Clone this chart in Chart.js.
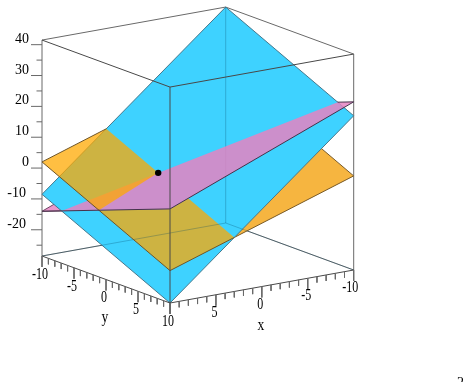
<!DOCTYPE html>
<html>
<head>
<meta charset="utf-8">
<title>Three planes</title>
<style>
  html, body { margin: 0; padding: 0; background: #fff; overflow: hidden; }
  canvas { display: block; }
</style>
<script src="https://cdn.jsdelivr.net/npm/chart.js@4/dist/chart.umd.min.js"></script>
</head>
<body>
<canvas id="chart" width="470" height="382"></canvas>
<script>
// corners of the x/y domain, every plane below lists its height at these four
const cornersXY = [[10, -10], [10, 10], [-10, 10], [-10, -10]];
const cyanZ = [-8.5, -28.5, 21.5, 41.5];
const orangeZ = [2, -18, 2, 22];
const pinkZ = [-14, 2, 26, 10];

// where the three planes meet
const meetPoint = [3, -1.89, 0.89];

const zRange = [-28.5, 41.5];
const xTicks = [-10, -5, 0, 5, 10];
const yTicks = [-10, -5, 0, 5, 10];
const zTicks = [40, 30, 20, 10, 0, -10, -20];
const xMinor = [-9, -8, -7, -6, -4, -3, -2, -1, 1, 2, 3, 4, 6, 7, 8, 9];
const yMinor = [-9, -8, -7, -6, -4, -3, -2, -1, 1, 2, 3, 4, 6, 7, 8, 9];
const zMinor = [35, 25, 15, 5, -5, -15, -25];

// view: oblique projection onto the page
function project(x, y, z) {
    return {
        x: 197.85 - 9.185 * x + 6.4 * y,
        y: 263 + 1.65 * x + 2.35 * y - 3.085 * (z - zRange[0])
    };
}

function heightOn(plane, x, y) {
    const c = (plane[0] + plane[1] + plane[2] + plane[3]) / 4;
    const p = (plane[0] + plane[1] - plane[2] - plane[3]) / 40;
    const q = (plane[1] + plane[2] - plane[0] - plane[3]) / 40;
    return c + p * x + q * y;
}

// keep the part of an x/y polygon where plane a is above plane b
function above(poly, a, b) {
    const out = [];
    const f = pt => heightOn(a, pt[0], pt[1]) - heightOn(b, pt[0], pt[1]);
    poly.forEach((pt, i) => {
        const next = poly[(i + 1) % poly.length];
        const fa = f(pt), fb = f(next);
        if (fa >= 0) out.push(pt);
        if ((fa >= 0) !== (fb >= 0)) {
            const t = fa / (fa - fb);
            out.push([pt[0] + t * (next[0] - pt[0]), pt[1] + t * (next[1] - pt[1])]);
        }
    });
    return out;
}

function onPlane(poly, plane) {
    const pts = poly.map(pt => project(pt[0], pt[1], heightOn(plane, pt[0], pt[1])));
    if (pts.length) pts.push(pts[0]);
    return pts;
}

function area(points, color, border) {
    return {
        data: points, showLine: true, fill: 'shape', backgroundColor: color,
        borderColor: border || 'transparent', borderWidth: border ? 1 : 0,
        pointRadius: 0, tension: 0
    };
}

function lines(points, color) {
    return { data: points, showLine: true, fill: false, borderColor: color, borderWidth: 1, pointRadius: 0, tension: 0 };
}

function boxEdges(pairs) {
    const pts = [];
    pairs.forEach(e => {
        pts.push(project(e[0], e[1], e[2]), project(e[3], e[4], e[5]), { x: NaN, y: NaN });
    });
    return pts;
}

const [zLow, zHigh] = zRange;
const backEdges = boxEdges([
    [-10, -10, zLow, -10, -10, zHigh],
    [10, -10, zLow, -10, -10, zLow],
    [-10, -10, zLow, -10, 10, zLow]
]);
const rimEdges = boxEdges([
    [10, -10, zLow, 10, -10, zHigh],
    [-10, 10, zLow, -10, 10, zHigh],
    [10, -10, zHigh, -10, -10, zHigh],
    [-10, -10, zHigh, -10, 10, zHigh]
]);
const frontEdges = boxEdges([
    [10, 10, zLow, 10, 10, zHigh],
    [10, -10, zHigh, 10, 10, zHigh],
    [10, 10, zHigh, -10, 10, zHigh],
    [10, -10, zLow, 10, 10, zLow],
    [10, 10, zLow, -10, 10, zLow]
]);

// axis tick marks hang off the box edges
function tickMarks(values, toPoint, dx, dy) {
    const pts = [];
    values.forEach(v => {
        const p = toPoint(v);
        pts.push(p, { x: p.x + dx, y: p.y + dy }, { x: NaN, y: NaN });
    });
    return pts;
}
const zAt = v => project(10, -10, v);
const yAt = v => project(10, v, zLow);
const xAt = v => project(v, 10, zLow);

// one side of a plane, optionally trimmed to where it is above another plane
function side(plane, i, j, other) {
    let seg = [cornersXY[i], cornersXY[j]];
    if (other) seg = above(seg, plane, other);
    return onPlane(seg, plane).slice(0, 2);
}

const ORANGE = 'rgba(255,168,0,0.74)';
const ORANGE_BACK = 'rgb(246,181,64)';
const PINK = 'rgba(231,130,193,0.84)';
const CYAN = 'rgb(62,210,255)';
const BOX = 'rgb(105,105,105)';
const FRONT = 'rgb(72,72,72)';
const ORANGE_EDGE = 'rgb(110,85,40)';
const PINK_EDGE = 'rgb(70,50,75)';

// flat sheets used only to cut the domain at x = 0
const xRamp = [20, 20, 0, 0];
const xRampMid = [10, 10, 10, 10];

const orangeUnder = above(cornersXY, cyanZ, orangeZ);
const pinkUnder = above(cornersXY, cyanZ, pinkZ);
const pinkOver = above(cornersXY, pinkZ, cyanZ);
const orangeOver = above(cornersXY, orangeZ, cyanZ);

// painted bottom to top, reversed below since Chart.js draws the first dataset last
const layers = [
    lines(backEdges, BOX),
    lines(rimEdges, BOX),
    area(onPlane(orangeUnder, orangeZ), ORANGE_BACK, 'rgb(120,90,40)'),
    area(onPlane(pinkUnder, pinkZ), PINK, 'rgb(110,70,100)'),
    area(onPlane(cornersXY, cyanZ), CYAN, 'rgb(70,120,140)'),
    area(onPlane(above(orangeOver, pinkZ, orangeZ), orangeZ), ORANGE),
    // orange does not show through the pink sheet, reset that part to cyan first
    area(onPlane(above(pinkOver, xRamp, xRampMid), pinkZ), CYAN),
    lines(backEdges, 'rgba(0,70,100,0.28)'),
    area(onPlane(pinkOver, pinkZ), PINK),
    area(onPlane(above(orangeOver, orangeZ, pinkZ), orangeZ), ORANGE),
    lines(side(orangeZ, 0, 1), ORANGE_EDGE),
    lines(side(orangeZ, 1, 2, cyanZ), ORANGE_EDGE),
    lines(side(orangeZ, 0, 3, cyanZ), ORANGE_EDGE),
    lines(side(pinkZ, 0, 1), PINK_EDGE),
    lines(side(pinkZ, 1, 2), PINK_EDGE),
    lines(side(pinkZ, 2, 3, cyanZ), PINK_EDGE),
    lines(frontEdges, FRONT),
    lines(tickMarks(zTicks, zAt, -11, 0), BOX),
    lines(tickMarks(zMinor, zAt, -5.5, 0), BOX),
    lines(tickMarks(yTicks, yAt, 0, 11), BOX),
    lines(tickMarks(yMinor, yAt, 0, 6), BOX),
    lines(tickMarks(xTicks, xAt, 0, 11), BOX),
    lines(tickMarks(xMinor, xAt, 0, 6), BOX),
    {
        data: [project(meetPoint[0], meetPoint[1], meetPoint[2])],
        showLine: false, pointRadius: 3.2, pointBackgroundColor: '#000', pointBorderWidth: 0
    }
];

function drawText(ctx, text, x, y, size, squeeze, align) {
    ctx.save();
    ctx.font = size + 'px "Liberation Serif"';
    ctx.fillStyle = '#000';
    ctx.textAlign = align || 'center';
    ctx.textBaseline = 'alphabetic';
    ctx.translate(x, y);
    ctx.scale(squeeze, 1);
    ctx.fillText(text, 0, 0);
    ctx.restore();
}

const axisLabels = {
    id: 'axisLabels',
    afterDraw(chart) {
        const ctx = chart.ctx;
        const sx = chart.scales.x, sy = chart.scales.y;
        const px = p => ({ x: sx.getPixelForValue(p.x), y: sy.getPixelForValue(p.y) });
        zTicks.forEach(v => {
            const p = px(zAt(v));
            drawText(ctx, String(v), v < 0 ? 26 : 29, p.y - 2, 14, 1, 'right');
        });
        yTicks.forEach(v => {
            const p = px(yAt(v));
            drawText(ctx, String(v), p.x - 2, p.y + 22.8, 16, 0.75);
        });
        xTicks.filter(v => v !== 10).forEach(v => {
            const p = px(xAt(v));
            drawText(ctx, String(v), p.x - (v === -10 ? 3.5 : 1.5), p.y + 22, 16, 0.75);
        });
        const yTitle = px(yAt(0));
        drawText(ctx, 'y', yTitle.x - 1, yTitle.y + 42.5, 16, 0.85);
        const xTitle = px(xAt(0));
        drawText(ctx, 'x', xTitle.x - 1, xTitle.y + 43.5, 16, 0.85);
        drawText(ctx, '2', 460.5, 387, 14, 1);
    }
};

new Chart(document.getElementById('chart').getContext('2d'), {
    type: 'scatter',
    data: { datasets: layers.slice().reverse() },
    options: {
        responsive: false,
        animation: false,
        events: [],
        layout: { padding: 0, autoPadding: false },
        plugins: { legend: { display: false }, tooltip: { enabled: false } },
        scales: {
            x: { type: 'linear', display: false, min: 0, max: 470 },
            y: { type: 'linear', display: false, reverse: true, min: 0, max: 382 }
        }
    },
    plugins: [axisLabels]
});
</script>
</body>
</html>
